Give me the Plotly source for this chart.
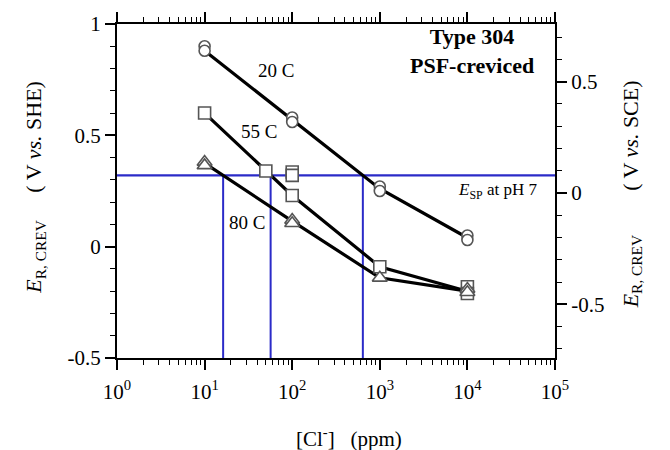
import numpy as np
import plotly.graph_objects as go

# Measured repassivation potentials (V vs. SHE) for each temperature
conc_20 = [10, 10, 100, 100, 1000, 1000, 10000, 10000]
e_20 = [0.90, 0.88, 0.58, 0.56, 0.27, 0.25, 0.05, 0.03]

conc_55 = [10, 50, 100, 100, 100, 1000, 10000, 10000]
e_55 = [0.60, 0.34, 0.335, 0.32, 0.23, -0.09, -0.18, -0.21]

conc_80 = [10, 10, 100, 100, 1000, 10000, 10000]
e_80 = [0.38, 0.365, 0.12, 0.105, -0.14, -0.19, -0.205]

# Trend lines through the data for each temperature
trend_conc_20 = [10, 100, 1000, 10000]
trend_e_20 = [0.88, 0.57, 0.26, 0.04]
trend_conc_55 = [10, 50, 100, 1000, 10000]
trend_e_55 = [0.60, 0.34, 0.23, -0.09, -0.20]
trend_conc_80 = [10, 100, 1000, 10000]
trend_e_80 = [0.375, 0.115, -0.14, -0.20]

temp_labels = ["20 C", "55 C", "80 C"]
temp_label_conc = [65, 42, 30.5]
temp_label_e = [0.79, 0.515, 0.11]

# Stable pit potential at pH 7 (V vs. SHE) and SHE -> SCE offset
e_sp = 0.32
sce_offset = 0.241

x_tickvals = [1, 10, 100, 1000, 10000, 100000]
x_ticktext = ["10<sup>%d</sup>" % i for i in range(6)]
y_tickvals = [-0.5, 0, 0.5, 1]
y_ticktext = ["-0.5", "0", "0.5", "1"]
y2_tickvals = [-0.5, 0, 0.5]
y2_ticktext = ["-0.5", "0", "0.5"]

FONT = "Liberation Serif"
BLUE = "#2b2bc8"
MARK = "#555555"


def critical_conc(cx, ce, level):
    """Chloride level where a descending trend line crosses a potential."""
    lx = np.log10(cx)
    ce = np.asarray(ce)
    for i in range(len(ce) - 1):
        if ce[i] >= level >= ce[i + 1]:
            t = (ce[i] - level) / (ce[i] - ce[i + 1])
            return 10 ** (lx[i] + t * (lx[i + 1] - lx[i]))
    return None


fig = go.Figure()

# Critical chloride guide lines
crit = [critical_conc(c, e, e_sp) for c, e in
        [(trend_conc_80, trend_e_80), (trend_conc_55, trend_e_55), (trend_conc_20, trend_e_20)]]
for c in crit:
    fig.add_trace(go.Scatter(x=[c, c], y=[-0.5, e_sp], mode="lines",
                             line=dict(color=BLUE, width=2), hoverinfo="skip", showlegend=False))
fig.add_trace(go.Scatter(x=[1, 100000], y=[e_sp, e_sp], mode="lines",
                         line=dict(color=BLUE, width=2.2), hoverinfo="skip", showlegend=False))

# Trend lines
for cx, ce in [(trend_conc_20, trend_e_20), (trend_conc_55, trend_e_55), (trend_conc_80, trend_e_80)]:
    fig.add_trace(go.Scatter(x=cx, y=ce, mode="lines", line=dict(color="black", width=3.2),
                             hoverinfo="skip", showlegend=False))

# Data markers (white-filled so the trend lines stop at the symbol outline)
for cx, ce, sym, sz in [(conc_20, e_20, "circle", 11),
                        (conc_55, e_55, "square", 12),
                        (conc_80, e_80, "triangle-up", 13)]:
    fig.add_trace(go.Scatter(x=cx, y=ce, mode="markers",
                             marker=dict(symbol=sym, size=sz, color="white",
                                         line=dict(color=MARK, width=1.6)),
                             showlegend=False))

# Invisible trace to carry the SCE axis
fig.add_trace(go.Scatter(x=[10], y=[0], xaxis="x", yaxis="y2", mode="markers",
                         marker=dict(opacity=0), hoverinfo="skip", showlegend=False))

minor_x = [m * 10 ** k for k in range(5) for m in range(2, 10)]

fig.update_layout(
    width=670, height=450,
    margin=dict(l=117, r=115, t=15, b=92),
    plot_bgcolor="white", paper_bgcolor="white",
    font=dict(family=FONT, size=20, color="black"),
    xaxis=dict(type="log", range=[0, 5], tickvals=x_tickvals, ticktext=x_ticktext,
               showgrid=False, zeroline=False, showline=True, linecolor="black", linewidth=2,
               mirror="ticks", ticks="outside", ticklen=10, tickwidth=1.5, tickcolor="black",
               ticklabelstandoff=4,
               minor=dict(tickvals=minor_x, ticks="outside", ticklen=5, tickwidth=1.2,
                          tickcolor="black", showgrid=False),
               tickfont=dict(size=21)),
    yaxis=dict(range=[-0.5, 1], tickvals=y_tickvals, ticktext=y_ticktext,
               showgrid=False, zeroline=False, showline=True, linecolor="black", linewidth=2,
               ticks="outside", ticklen=10, tickwidth=1.5, tickcolor="black",
               minor=dict(dtick=0.1, tick0=0, ticks="outside", ticklen=5, tickwidth=1.2,
                          tickcolor="black", showgrid=False),
               tickfont=dict(size=21)),
    yaxis2=dict(overlaying="y", side="right", anchor="x",
                range=[-0.5 - sce_offset, 1 - sce_offset], tickvals=y2_tickvals, ticktext=y2_ticktext,
                showgrid=False, zeroline=False, showline=True, linecolor="black", linewidth=2,
                ticks="outside", ticklen=10, tickwidth=1.5, tickcolor="black",
                minor=dict(dtick=0.1, tick0=0, ticks="outside", ticklen=5, tickwidth=1.2,
                           tickcolor="black", showgrid=False),
                tickfont=dict(size=21)),
)

ann = []
for t, cx, ce in zip(temp_labels, temp_label_conc, temp_label_e):
    ann.append(dict(x=np.log10(cx), y=ce, xref="x", yref="y", text=t, showarrow=False,
                    font=dict(size=19)))
ann.append(dict(x=0.81, y=0.918, xref="paper", yref="paper", xanchor="center", yanchor="middle",
                text="<b>Type 304</b><br><b>PSF-creviced</b>", showarrow=False,
                align="center", font=dict(size=22)))
ann.append(dict(x=1, xshift=-16, y=0.25, xref="paper", yref="y", xanchor="right",
                text="<i>E</i><sub>SP</sub> at pH 7", showarrow=False, font=dict(size=17)))
ann.append(dict(x=0, xshift=-98, y=0.51, xref="paper", yref="paper", textangle=-90,
                text="<i>E</i><sub>R, CREV</sub>     ( V <i>vs.</i> SHE)", showarrow=False,
                font=dict(size=22)))
ann.append(dict(x=1, xshift=93, y=0.49, xref="paper", yref="paper", textangle=-90,
                text="<i>E</i><sub>R, CREV</sub>        ( V <i>vs.</i> SCE)", showarrow=False,
                font=dict(size=22)))
ann.append(dict(x=0.53, y=0, yshift=-64, xref="paper", yref="paper", yanchor="top",
                text="[Cl<sup>-</sup>]   (ppm)", showarrow=False, font=dict(size=21)))
fig.update_layout(annotations=ann)

fig.write_html("out.html")
